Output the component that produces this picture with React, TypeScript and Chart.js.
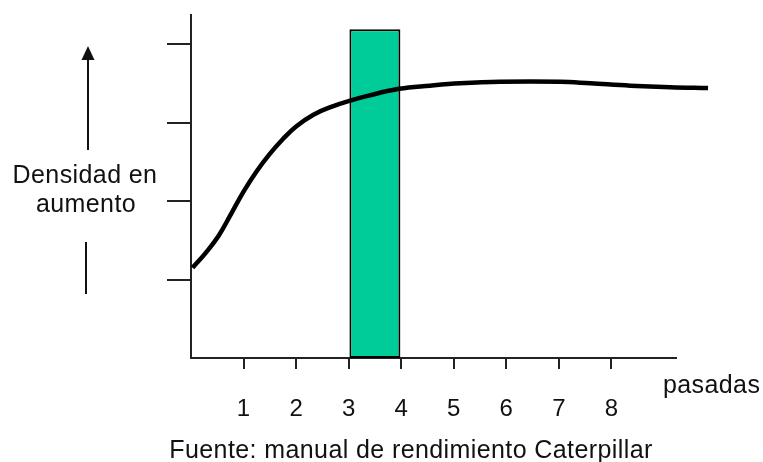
import React, { useEffect, useRef } from "react";
import { Chart, registerables } from "chart.js";

Chart.register(...registerables);

// Curve: pasadas (x) vs. densidad (y, arbitrary units)
const passes = [0.03, 0.28, 0.52, 0.75, 1.0, 1.25, 1.5, 1.75, 2.0, 2.33, 2.71, 3.03, 3.36, 3.96, 4.55, 5.12, 5.88, 7.02, 7.6, 8.36, 9.12, 9.84];
const density = [1.15, 1.34, 1.55, 1.82, 2.12, 2.38, 2.6, 2.79, 2.95, 3.1, 3.21, 3.28, 3.34, 3.43, 3.47, 3.5, 3.52, 3.52, 3.5, 3.47, 3.45, 3.44];

// Highlighted band (optimum number of passes)
const bandCenter = 3.5;
const bandHeight = 4.19;

const xTickValues = [1, 2, 3, 4, 5, 6, 7, 8];
const yTickValues = [1, 2, 3, 4];
const xMax = 9.23;
const yMax = 4.37;

const yLabelLines = ["Densidad en", "aumento"];
const xLabel = "pasadas";
const sourceText = "Fuente: manual de rendimiento Caterpillar";

const FONT = '"Liberation Sans", Arial, sans-serif';
const INK = "#111111";

const textPlugin = {
  id: "annotText",
  afterDraw(chart: any) {
    const ctx = chart.ctx as CanvasRenderingContext2D;
    ctx.save();
    ctx.fillStyle = INK;
    ctx.strokeStyle = INK;
    (ctx as any).letterSpacing = "0.4px";
    ctx.font = `25px ${FONT}`;
    ctx.textBaseline = "alphabetic";
    ctx.textAlign = "center";
    ctx.fillText(yLabelLines[0], 85, 183);
    ctx.fillText(yLabelLines[1], 86, 212);
    ctx.textAlign = "left";
    ctx.fillText(xLabel, 663, 393);
    ctx.textAlign = "center";
    ctx.fillText(sourceText, 411, 458);

    // arrow up
    ctx.lineWidth = 2;
    ctx.beginPath();
    ctx.moveTo(88, 150);
    ctx.lineTo(88, 58);
    ctx.stroke();
    ctx.beginPath();
    ctx.moveTo(88, 46);
    ctx.lineTo(94.5, 60);
    ctx.lineTo(81.5, 60);
    ctx.closePath();
    ctx.fill();
    // lower stem
    ctx.beginPath();
    ctx.moveTo(86, 242);
    ctx.lineTo(86, 294);
    ctx.stroke();
    ctx.restore();
  },
};

export default function App() {
  const ref = useRef<HTMLCanvasElement | null>(null);
  useEffect(() => {
    if (!ref.current) return;
    const chart = new Chart(ref.current, {
      data: {
        datasets: [
          {
            type: "line",
            data: passes.map((x, i) => ({ x, y: density[i] })),
            borderColor: "#000000",
            borderWidth: 4.5,
            pointRadius: 0,
            tension: 0.4,
            fill: false,
            clip: false as any,
          },
          {
            type: "bar",
            data: [{ x: bandCenter, y: bandHeight }],
            backgroundColor: "rgb(0,204,153)",
            borderColor: "#000000",
            borderWidth: 2,
            borderSkipped: false,
            categoryPercentage: 1,
            barPercentage: 0.97,
          },
        ],
      } as any,
      options: {
        animation: false,
        responsive: true,
        maintainAspectRatio: false,
        events: [],
        layout: { padding: { left: 161, top: 15, right: 87, bottom: 44 } },
        plugins: { legend: { display: false }, tooltip: { enabled: false } },
        scales: {
          x: {
            type: "linear",
            min: 0,
            max: xMax,
            offset: false,
            afterBuildTicks: (axis: any) => {
              axis.ticks = xTickValues.map((v) => ({ value: v }));
            },
            afterFit: (axis: any) => {
              axis.height = 60;
            },
            grid: { offset: false, drawOnChartArea: false, drawTicks: true, tickLength: 11, color: "#222222", lineWidth: 2 },
            border: { display: true, color: "#222222", width: 2 },
            ticks: {
              padding: 26,
              color: INK,
              font: { size: 24, family: FONT },
              maxRotation: 0,
              callback: (v: any) => String(v),
            },
          },
          y: {
            type: "linear",
            min: 0,
            max: yMax,
            afterBuildTicks: (axis: any) => {
              axis.ticks = yTickValues.map((v) => ({ value: v }));
            },
            afterFit: (axis: any) => {
              axis.width = 30;
            },
            grid: { drawOnChartArea: false, drawTicks: true, tickLength: 24, color: "#222222", lineWidth: 2 },
            border: { display: true, color: "#222222", width: 2 },
            ticks: { callback: () => "", padding: 0 },
          },
        },
      } as any,
      plugins: [textPlugin],
    });
    return () => chart.destroy();
  }, []);
  return (
    <div style={{ position: "fixed", left: 0, top: 0, width: 763, height: 462, background: "#fff" }}>
      <canvas ref={ref} />
    </div>
  );
}
